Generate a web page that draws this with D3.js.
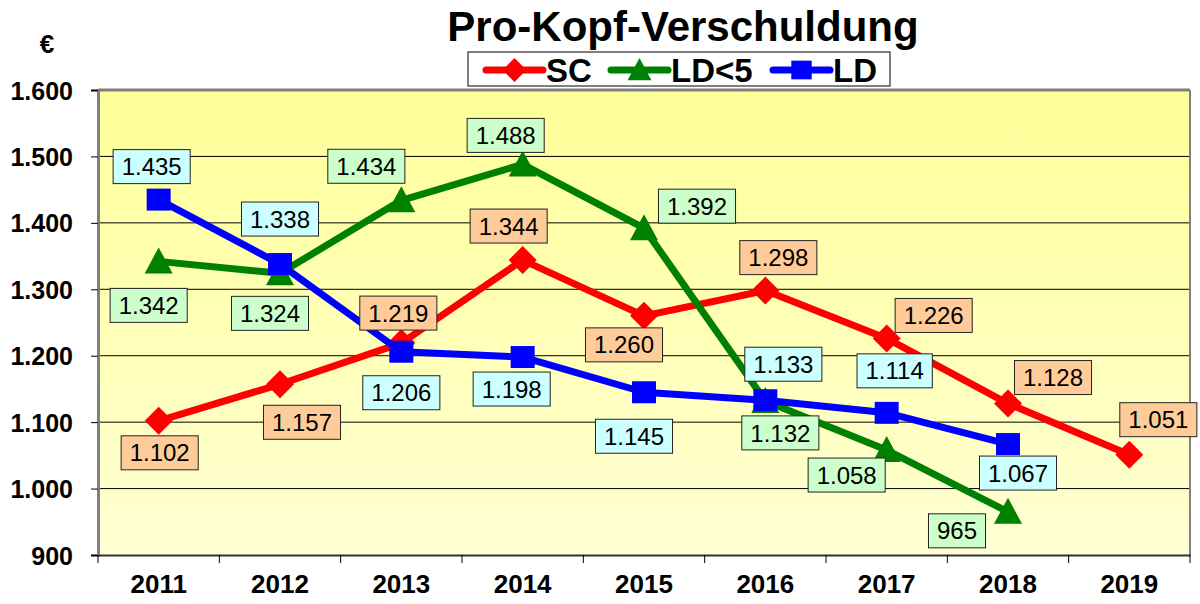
<!DOCTYPE html>
<html>
<head>
<meta charset="utf-8">
<script src="https://cdn.jsdelivr.net/npm/d3@7"></script>
<style>
  body { margin: 0; background: #fff; }
  text { font-family: Arial, "Liberation Sans", sans-serif; }
</style>
</head>
<body>
<div id="chart"></div>
<script>
// chart data
const years = ["2011", "2012", "2013", "2014", "2015", "2016", "2017", "2018", "2019"];
const scValues = [1102, 1157, 1219, 1344, 1260, 1298, 1226, 1128, 1051];
const ld5Values = [1342, 1324, 1434, 1488, 1392, 1132, 1058, 965, null];
const ldValues = [1435, 1338, 1206, 1198, 1145, 1133, 1114, 1067, null];
const yTicks = [900, 1000, 1100, 1200, 1300, 1400, 1500, 1600];

// where the value boxes sit relative to their point (dx, dy of box centre)
const scLabelOffsets = [[1, 32], [22, 38], [-3, -30], [-14, -34], [-20, 29], [13, -33], [47, -23], [45, -26], [29, -35]];
const ld5LabelOffsets = [[-10, 44], [-10, 40], [-35, -34], [-17, -29], [53, -22], [15, 32], [-40, 25], [-51, 19]];
const ldLabelOffsets = [[-7, -33], [0, -45], [0, 41], [-11, 32], [-10, 44], [18, -36], [8, -42], [10, 29]];

const series = [
    { name: "SC", values: scValues, color: "#ff0000", marker: "diamond", labelFill: "#ffcc99", offsets: scLabelOffsets },
    { name: "LD<5", values: ld5Values, color: "#008000", marker: "triangle", labelFill: "#ccffcc", offsets: ld5LabelOffsets },
    { name: "LD", values: ldValues, color: "#0000ff", marker: "square", labelFill: "#ccffff", offsets: ldLabelOffsets }
];

const de = d3.formatLocale({ decimal: ",", thousands: ".", grouping: [3], currency: ["", " €"] });
const fmt = de.format(",d");

const width = 1200, height = 604;
const margin = { top: 90, right: 10, bottom: 49, left: 98 };
const innerW = 1190 - margin.left;
const innerH = 555 - margin.top;

const svg = d3.select("#chart").append("svg")
    .attr("width", width)
    .attr("height", height);

// background gradient of the plot area
const defs = svg.append("defs");
const grad = defs.append("linearGradient")
    .attr("id", "plotBg")
    .attr("x1", 0).attr("y1", 0).attr("x2", 0).attr("y2", 1);
grad.append("stop").attr("offset", "0%").attr("stop-color", "#ffff99");
grad.append("stop").attr("offset", "100%").attr("stop-color", "#ffffd4");

const g = svg.append("g").attr("transform", `translate(${margin.left},${margin.top})`);

const x = d3.scaleBand().domain(years).range([0, innerW]);
const y = d3.scaleLinear().domain([900, 1600]).range([innerH, 0]);
const cx = d => x(d) + x.bandwidth() / 2;

g.append("rect")
    .attr("width", innerW)
    .attr("height", innerH)
    .attr("fill", "url(#plotBg)");

// gridlines
g.selectAll(".grid")
    .data(yTicks.filter(t => t > 900 && t < 1600))
    .join("line")
    .attr("class", "grid")
    .attr("x1", 0).attr("x2", innerW)
    .attr("y1", d => y(d)).attr("y2", d => y(d))
    .attr("stroke", "#000")
    .attr("stroke-width", 1);

// frame: top and right in gray
g.append("line").attr("x1", 0).attr("x2", innerW).attr("y1", 0).attr("y2", 0)
    .attr("stroke", "#808080").attr("stroke-width", 3);
g.append("line").attr("x1", innerW).attr("x2", innerW).attr("y1", 0).attr("y2", innerH)
    .attr("stroke", "#808080").attr("stroke-width", 2);

// y axis
const yAxis = g.append("g")
    .call(d3.axisLeft(y).tickValues(yTicks).tickSize(7).tickFormat(fmt));
yAxis.select(".domain").attr("stroke", "#808080").attr("stroke-width", 3);
yAxis.selectAll(".tick line").attr("stroke", "#000").attr("stroke-width", 1);
yAxis.selectAll(".tick text")
    .attr("x", -25)
    .attr("dy", "0.36em")
    .style("font-size", "25px")
    .style("font-weight", "bold")
    .style("font-family", "Arial, 'Liberation Sans', sans-serif")
    .attr("fill", "#000");

// x axis
const xAxis = g.append("g")
    .attr("transform", `translate(0,${innerH})`)
    .call(d3.axisBottom(x).tickSize(0).tickPadding(20));
xAxis.select(".domain").attr("stroke", "#333").attr("stroke-width", 2);
xAxis.selectAll(".tick text")
    .style("font-size", "26px")
    .style("font-weight", "bold")
    .style("font-family", "Arial, 'Liberation Sans', sans-serif")
    .attr("fill", "#000");
// category separators below the axis
g.selectAll(".xsep")
    .data(d3.range(years.length + 1))
    .join("line")
    .attr("class", "xsep")
    .attr("x1", i => i * x.bandwidth()).attr("x2", i => i * x.bandwidth())
    .attr("y1", innerH).attr("y2", innerH + 8)
    .attr("stroke", "#000").attr("stroke-width", 1);

// marker shapes
function markerPath(type) {
    if (type === "diamond") return "M0,-14L14,0L0,14L-14,0Z";
    if (type === "triangle") return "M0,-14L14,12L-14,12Z";
    return "M-12,-11H12V11H-12Z";
}

// lines and markers
const line = d3.line()
    .defined(d => d.v !== null)
    .x(d => cx(d.year))
    .y(d => y(d.v));

series.forEach(s => {
    const pts = years.map((yr, i) => ({ year: yr, v: s.values[i], i: i }));
    g.append("path")
        .datum(pts)
        .attr("fill", "none")
        .attr("stroke", s.color)
        .attr("stroke-width", 7)
        .attr("stroke-linejoin", "round")
        .attr("d", line);
    g.selectAll(null)
        .data(pts.filter(d => d.v !== null))
        .join("path")
        .attr("transform", d => `translate(${cx(d.year)},${y(d.v)})`)
        .attr("d", markerPath(s.marker))
        .attr("fill", s.color);
});

// value boxes
series.forEach(s => {
    const pts = years.map((yr, i) => ({ year: yr, v: s.values[i], i: i })).filter(d => d.v !== null);
    const lab = g.selectAll(null)
        .data(pts)
        .join("g")
        .attr("transform", d => `translate(${cx(d.year) + s.offsets[d.i][0]},${y(d.v) + s.offsets[d.i][1]})`);
    lab.each(function(d) {
        const el = d3.select(this);
        const t = el.append("text")
            .attr("text-anchor", "middle")
            .attr("dy", "0.36em")
            .style("font-size", "24px")
            .attr("fill", "#000")
            .text(fmt(d.v));
        const w = t.node().getComputedTextLength() + 17;
        el.insert("rect", "text")
            .attr("x", -w / 2).attr("y", -17)
            .attr("width", w).attr("height", 34)
            .attr("fill", s.labelFill)
            .attr("stroke", "#222")
            .attr("stroke-width", 1);
    });
});

// title and unit
svg.append("text")
    .attr("x", 683).attr("y", 41)
    .attr("text-anchor", "middle")
    .style("font-size", "42px")
    .style("font-weight", "bold")
    .text("Pro-Kopf-Verschuldung");

svg.append("text")
    .attr("x", 47).attr("y", 53)
    .attr("text-anchor", "middle")
    .style("font-size", "26px")
    .style("font-weight", "bold")
    .text("€");

// legend
const legend = svg.append("g").attr("transform", "translate(468,52)");
legend.append("rect")
    .attr("width", 422).attr("height", 34)
    .attr("fill", "#fff").attr("stroke", "#000").attr("stroke-width", 1);
const legendX = [18, 143, 305];
series.forEach((s, i) => {
    const lg = legend.append("g").attr("transform", `translate(${legendX[i]},18)`);
    lg.append("line")
        .attr("x1", 0).attr("x2", 57).attr("y1", 0).attr("y2", 0)
        .attr("stroke", s.color).attr("stroke-width", 7).attr("stroke-linecap", "round");
    lg.append("path")
        .attr("transform", "translate(28.5,0) scale(0.85)")
        .attr("d", markerPath(s.marker))
        .attr("fill", s.color);
    lg.append("text")
        .attr("x", 60).attr("y", 0).attr("dy", "0.36em")
        .style("font-size", "33px")
        .style("font-weight", "bold")
        .text(s.name);
});
</script>
</body>
</html>
